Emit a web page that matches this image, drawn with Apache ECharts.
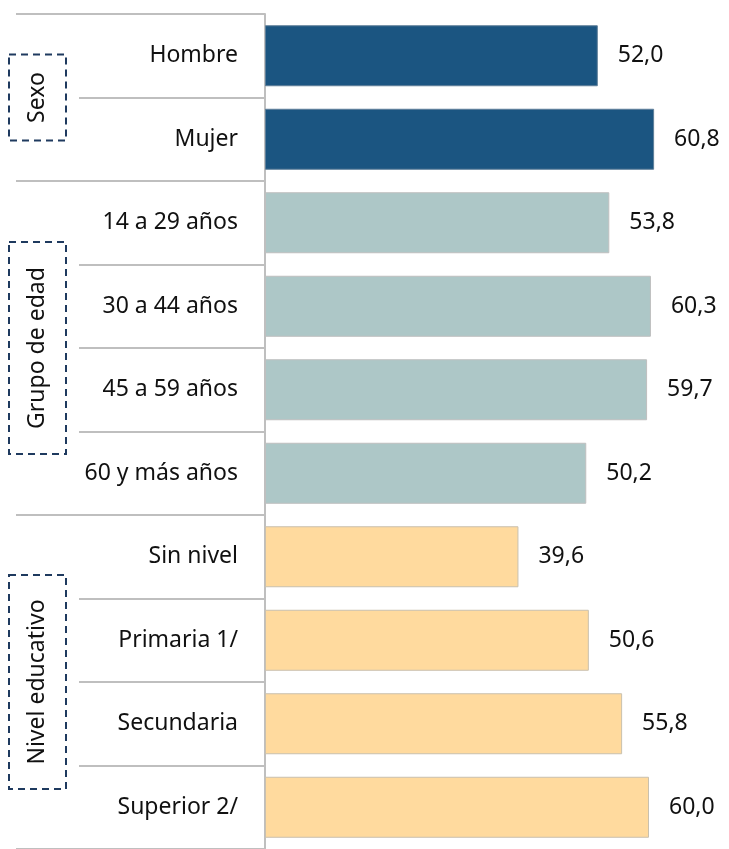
<!DOCTYPE html>
<html>
<head>
<meta charset="utf-8">
<script src="https://cdn.jsdelivr.net/npm/echarts@6/dist/echarts.min.js"></script>
<style>
  html, body { margin: 0; padding: 0; background: #fff; }
  #chart { width: 729px; height: 849px; }
</style>
</head>
<body>
<div id="chart"></div>
<script>
// Categories, top to bottom
const categories = ['Hombre', 'Mujer', '14 a 29 años', '30 a 44 años', '45 a 59 años',
  '60 y más años', 'Sin nivel', 'Primaria 1/', 'Secundaria', 'Superior 2/'];
// Values per category (%)
const values = [52.0, 60.8, 53.8, 60.3, 59.7, 50.2, 39.6, 50.6, 55.8, 60.0];
// Group of each category
const groupOf = [0, 0, 1, 1, 1, 1, 2, 2, 2, 2];
// Group titles
const groupNames = ['Sexo', 'Grupo de edad', 'Nivel educativo'];

const groupColors = ['#1B5581', '#ADC7C7', '#FFDA9E'];
const groupBorders = ['#5F7F99', '#BFBFBF', '#C9C0AE'];
const groupBoxHeights = [86, 212, 214];
const FONT = '"Noto Sans", "Open Sans", sans-serif';
const GRID_LEFT = 265, GRID_TOP = 14, LINE = '#BFBFBF';

const chart = echarts.init(document.getElementById('chart'));

chart.setOption({
  animation: false,
  grid: { left: GRID_LEFT, top: GRID_TOP, width: 448, height: 842, containLabel: false },
  xAxis: {
    type: 'value', min: 0, max: 70,
    show: false
  },
  yAxis: {
    type: 'category',
    inverse: true,
    data: categories,
    axisLine: { show: true, lineStyle: { color: LINE, width: 2 } },
    axisTick: { show: true, length: 186, lineStyle: { color: LINE, width: 2 } },
    axisLabel: { margin: 27, fontFamily: FONT, fontSize: 23, color: '#111' }
  },
  series: [{
    type: 'bar',
    barWidth: 61,
    data: values.map((v, i) => ({
      value: v,
      itemStyle: { color: groupColors[groupOf[i]], borderColor: groupBorders[groupOf[i]], borderWidth: 1 }
    })),
    label: {
      show: true, position: 'right', distance: 20,
      fontFamily: FONT, fontSize: 23, color: '#111',
      formatter: p => p.value.toFixed(1).replace('.', ',')
    }
  }]
});

// Separators between groups and dashed group title boxes
function drawGroups() {
  const c0 = chart.convertToPixel({ yAxisIndex: 0 }, categories[0]);
  const c1 = chart.convertToPixel({ yAxisIndex: 0 }, categories[1]);
  const step = c1 - c0;
  const elements = [];
  const bounds = [0];
  for (let i = 1; i < categories.length; i++) if (groupOf[i] !== groupOf[i - 1]) bounds.push(i);
  bounds.push(categories.length);
  bounds.forEach(b => {
    const y = c0 - step / 2 + b * step;
    elements.push({
      type: 'line', silent: true,
      shape: { x1: 16, y1: y, x2: GRID_LEFT - 186, y2: y },
      style: { stroke: LINE, lineWidth: 2 }
    });
  });
  groupNames.forEach((name, g) => {
    const idx = categories.map((_, i) => i).filter(i => groupOf[i] === g);
    const first = chart.convertToPixel({ yAxisIndex: 0 }, categories[idx[0]]);
    const last = chart.convertToPixel({ yAxisIndex: 0 }, categories[idx[idx.length - 1]]);
    const cy = (first + last) / 2;
    const h = groupBoxHeights[g];
    elements.push({
      type: 'rect', silent: true,
      shape: { x: 9, y: cy - h / 2, width: 57, height: h },
      style: { fill: 'none', stroke: '#1F3A5F', lineWidth: 2, lineDash: [7, 5] }
    });
    elements.push({
      type: 'text', silent: true,
      x: 37.5, y: cy, rotation: Math.PI / 2,
      style: { text: name, font: '23px ' + FONT, fill: '#111', align: 'center', verticalAlign: 'middle' }
    });
  });
  chart.setOption({ graphic: { elements } });
}
drawGroups();
</script>
</body>
</html>
